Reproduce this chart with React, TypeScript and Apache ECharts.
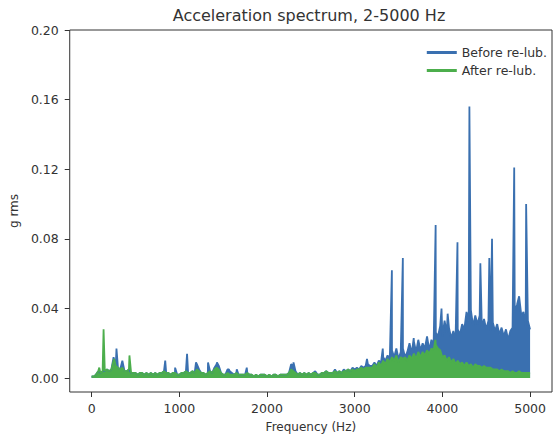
import React, { useEffect, useRef } from "react";
import * as echarts from "echarts";

// Spectrum envelope sampled every 25 Hz (g rms), plus narrow peaks [Hz, g rms]
const freqStep = 25;

const beforeEnv = [
  0.001, 0.001, 0.002, 0.004, 0.003, 0.004, 0.004, 0.005,
  0.004, 0.005, 0.012, 0.007, 0.006, 0.005, 0.010, 0.004,
  0.004, 0.005, 0.003, 0.003, 0.003, 0.002, 0.003, 0.003,
  0.002, 0.003, 0.002, 0.003, 0.002, 0.003, 0.002, 0.003,
  0.003, 0.004, 0.003, 0.003, 0.002, 0.003, 0.003, 0.002,
  0.002, 0.003, 0.003, 0.004, 0.003, 0.003, 0.004, 0.003,
  0.008, 0.005, 0.003, 0.003, 0.002, 0.003, 0.004, 0.003,
  0.006, 0.008, 0.007, 0.003, 0.002, 0.002, 0.005, 0.004,
  0.003, 0.002, 0.003, 0.002, 0.002, 0.002, 0.002, 0.003,
  0.002, 0.002, 0.001, 0.002, 0.001, 0.002, 0.002, 0.002,
  0.001, 0.002, 0.001, 0.002, 0.002, 0.001, 0.002, 0.002,
  0.002, 0.002, 0.003, 0.008, 0.007, 0.004, 0.002, 0.003,
  0.002, 0.003, 0.002, 0.003, 0.002, 0.003, 0.004, 0.002,
  0.002, 0.003, 0.003, 0.004, 0.003, 0.003, 0.003, 0.005,
  0.003, 0.004, 0.003, 0.005, 0.004, 0.005, 0.004, 0.006,
  0.005, 0.006, 0.005, 0.007, 0.006, 0.007, 0.008, 0.007,
  0.007, 0.009, 0.007, 0.010, 0.009, 0.012, 0.010, 0.013,
  0.011, 0.016, 0.012, 0.017, 0.011, 0.015, 0.017, 0.012,
  0.015, 0.020, 0.014, 0.021, 0.015, 0.022, 0.016, 0.020,
  0.017, 0.024, 0.016, 0.022, 0.019, 0.026, 0.024, 0.030,
  0.024, 0.033, 0.026, 0.029, 0.023, 0.027, 0.022, 0.028,
  0.025, 0.031, 0.028, 0.038, 0.033, 0.039, 0.030, 0.036,
  0.031, 0.036, 0.029, 0.034, 0.028, 0.033, 0.027, 0.032,
  0.027, 0.031, 0.025, 0.029, 0.024, 0.028, 0.022, 0.027,
  0.029, 0.038, 0.042, 0.047, 0.036, 0.038, 0.030, 0.033,
  0.028,
];

const beforePeaks = [
  [283, 0.017], [839, 0.010], [952, 0.006], [1088, 0.014], [1190, 0.009],
  [1327, 0.009], [1429, 0.009], [1565, 0.005], [1655, 0.005], [1769, 0.006],
  [2302, 0.009], [3140, 0.011], [3320, 0.017], [3424, 0.062], [3549, 0.069],
  [3673, 0.023], [3923, 0.088], [3990, 0.040], [4060, 0.037], [4172, 0.078],
  [4308, 0.156], [4433, 0.066], [4535, 0.069], [4566, 0.080], [4819, 0.121],
  [4955, 0.100],
];

const afterEnv = [
  0.001, 0.001, 0.002, 0.004, 0.003, 0.004, 0.004, 0.005,
  0.004, 0.005, 0.010, 0.007, 0.006, 0.005, 0.006, 0.004,
  0.004, 0.005, 0.003, 0.003, 0.003, 0.002, 0.003, 0.003,
  0.002, 0.003, 0.002, 0.003, 0.002, 0.003, 0.002, 0.003,
  0.003, 0.004, 0.003, 0.003, 0.002, 0.003, 0.003, 0.002,
  0.002, 0.003, 0.003, 0.004, 0.003, 0.003, 0.004, 0.003,
  0.005, 0.004, 0.003, 0.003, 0.002, 0.003, 0.004, 0.003,
  0.005, 0.006, 0.005, 0.003, 0.002, 0.002, 0.003, 0.002,
  0.002, 0.002, 0.003, 0.002, 0.002, 0.002, 0.002, 0.003,
  0.002, 0.002, 0.001, 0.002, 0.001, 0.002, 0.002, 0.002,
  0.001, 0.002, 0.001, 0.002, 0.002, 0.001, 0.002, 0.002,
  0.002, 0.002, 0.003, 0.005, 0.004, 0.003, 0.002, 0.003,
  0.002, 0.003, 0.002, 0.003, 0.002, 0.003, 0.003, 0.002,
  0.002, 0.003, 0.003, 0.004, 0.003, 0.003, 0.003, 0.004,
  0.003, 0.004, 0.003, 0.004, 0.004, 0.005, 0.004, 0.005,
  0.004, 0.005, 0.005, 0.006, 0.005, 0.006, 0.006, 0.006,
  0.006, 0.008, 0.006, 0.009, 0.007, 0.010, 0.008, 0.011,
  0.009, 0.012, 0.010, 0.013, 0.009, 0.012, 0.011, 0.012,
  0.010, 0.013, 0.011, 0.014, 0.011, 0.015, 0.012, 0.015,
  0.013, 0.016, 0.014, 0.017, 0.016, 0.019, 0.017, 0.016,
  0.012, 0.013, 0.010, 0.012, 0.009, 0.011, 0.008, 0.010,
  0.008, 0.009, 0.007, 0.009, 0.007, 0.008, 0.006, 0.008,
  0.007, 0.007, 0.006, 0.007, 0.006, 0.006, 0.006, 0.005,
  0.005, 0.005, 0.004, 0.005, 0.004, 0.004, 0.004, 0.003,
  0.004, 0.003, 0.003, 0.004, 0.003, 0.003, 0.003, 0.003,
  0.003,
];

const afterPeaks = [
  [87, 0.006], [136, 0.028], [256, 0.011], [431, 0.013], [3920, 0.022],
];

const seriesNames = ["Before re-lub.", "After re-lub."];
const seriesColors = ["#3a70b0", "#4cae4c"];
const xTicks = [0, 1000, 2000, 3000, 4000, 5000];
const yTicks = [0, 0.04, 0.08, 0.12, 0.16, 0.2];
const titleText = "Acceleration spectrum, 2-5000 Hz";
const xName = "Frequency (Hz)";
const yName = "g rms";

const FONT = "DejaVu Sans";
const TEXT = "#333";

function buildSeries(env: number[], peaks: number[][]) {
  const pts = env.map((v, i) => [i * freqStep, v]);
  return pts.concat(peaks.map((p) => [p[0], p[1]])).sort((a, b) => a[0] - b[0]);
}

export default function App() {
  const ref = useRef<HTMLDivElement>(null);
  useEffect(() => {
    if (!ref.current) return;
    const chart = echarts.init(ref.current, null, { renderer: "svg" });
    const sets = [buildSeries(beforeEnv, beforePeaks), buildSeries(afterEnv, afterPeaks)];
    chart.setOption({
      animation: false,
      backgroundColor: "#fff",
      textStyle: { fontFamily: FONT },
      graphic: [
        {
          type: "text",
          x: 309,
          y: 15,
          style: {
            text: titleText,
            fill: TEXT,
            font: `16px "${FONT}"`,
            align: "center",
            verticalAlign: "middle",
          },
        },
      ],
      legend: {
        orient: "vertical",
        right: 8,
        top: 41,
        itemWidth: 30,
        itemHeight: 3,
        itemGap: 5,
        icon: "rect",
        textStyle: { fontSize: 12.5, color: TEXT, fontFamily: FONT },
        data: seriesNames,
      },
      grid: {
        left: 66,
        top: 30,
        width: 486,
        height: 362,
        show: true,
        borderColor: "#333",
        borderWidth: 1,
        backgroundColor: "transparent",
      },
      xAxis: {
        type: "value",
        min: -250,
        max: 5250,
        name: xName,
        nameLocation: "middle",
        nameGap: 29,
        nameTextStyle: { fontSize: 12, color: TEXT, fontFamily: FONT },
        axisLine: { show: false, onZero: false },
        axisTick: { show: true, length: 5, customValues: xTicks, lineStyle: { color: "#333" } },
        axisLabel: {
          customValues: xTicks,
          margin: 10,
          fontSize: 12.5,
          color: TEXT,
          fontFamily: FONT,
          formatter: (v: number) => String(v),
        },
        splitLine: { show: false },
      },
      yAxis: {
        type: "value",
        min: -0.008,
        max: 0.2,
        name: yName,
        nameLocation: "middle",
        nameGap: 45,
        nameTextStyle: { fontSize: 12, color: TEXT, fontFamily: FONT },
        axisLine: { show: false, onZero: false },
        axisTick: { show: true, length: 5, customValues: yTicks, lineStyle: { color: "#333" } },
        axisLabel: {
          customValues: yTicks,
          margin: 11,
          fontSize: 12.5,
          color: TEXT,
          fontFamily: FONT,
          formatter: (v: number) => v.toFixed(2),
        },
        splitLine: { show: false },
      },
      series: seriesNames.map((name, k) => ({
        name,
        type: "line",
        data: sets[k],
        showSymbol: false,
        symbol: "none",
        color: seriesColors[k],
        lineStyle: { width: 1.8, color: seriesColors[k] },
        itemStyle: { color: seriesColors[k] },
        areaStyle: { color: seriesColors[k], opacity: 1 },
      })),
    });
    return () => chart.dispose();
  }, []);
  return (
    <div
      ref={ref}
      style={{ position: "fixed", left: 0, top: 0, width: 560, height: 442, background: "#fff" }}
    />
  );
}
